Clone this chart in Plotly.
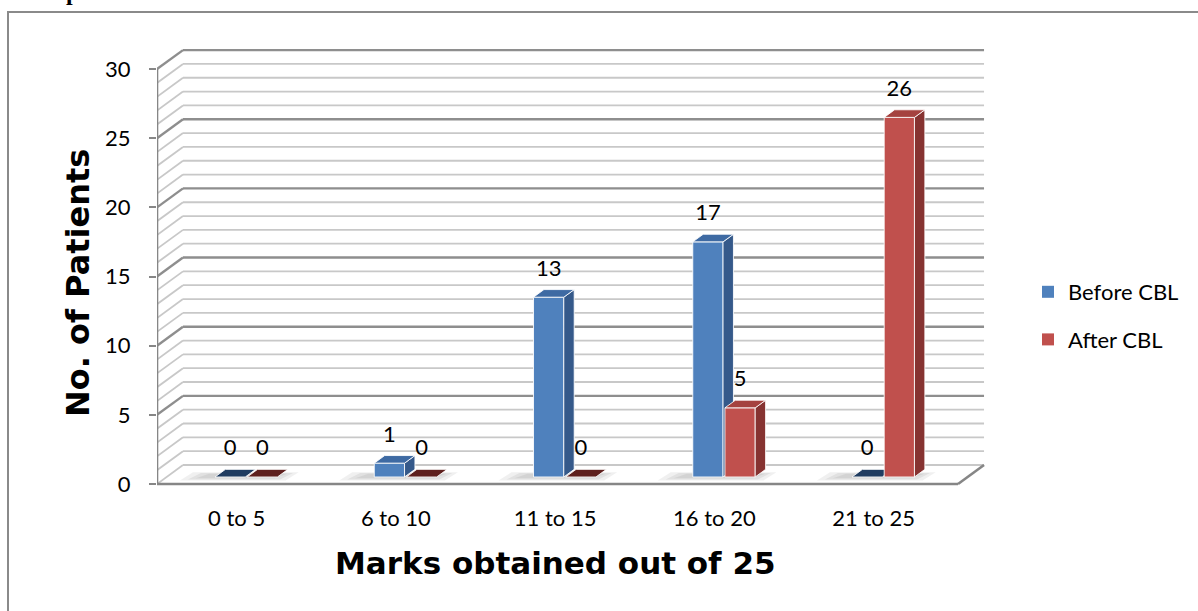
import plotly.graph_objects as go

# ---- data -------------------------------------------------------------
categories = ["0 to 5", "6 to 10", "11 to 15", "16 to 20", "21 to 25"]
before_cbl = [0, 1, 13, 17, 0]
after_cbl = [0, 0, 0, 5, 26]
series_names = ["Before CBL", "After CBL"]
y_ticks = [0, 5, 10, 15, 20, 25, 30]

x_title = "Marks obtained out of 25"
y_title = "No. of Patients"

# ---- geometry ---------------------------------------------------------
W, H = 1198, 611
ML, MR, MT, MB = 157, 208, 40, 111
PLOT_W = W - ML - MR
PLOT_H = H - MT - MB
PX_PER_CAT = 159.25
PX_PER_UNIT = 13.83

X_LEFT = -0.5                      # front-left corner of the floor
X_RIGHT = 4.53                     # front-right corner of the floor
X_RANGE = [X_LEFT, X_LEFT + PLOT_W / PX_PER_CAT]
Y_RANGE = [-16 / PX_PER_UNIT, (PLOT_H - 16) / PX_PER_UNIT]
Y_MAX = 30

# depth of the 3-D box, expressed in axis units
DX = 26 / PX_PER_CAT
DY = 19 / PX_PER_UNIT
Z_FRONT, Z_BACK = 0.37, 0.77       # bar depth inside the box
BAR_W = 0.19
HALF_GAP = 0.006

GRID_MINOR = "#c8c8c8"
GRID_MAJOR = "#8e8e8e"
AXIS_COL = "#868686"

STYLE = {
    "Before CBL": dict(front="#4F81BD", side="#35598A", top="#3E6AA3", flat="#203C60"),
    "After CBL": dict(front="#C0504D", side="#863331", top="#A5423F", flat="#5E201E"),
}

TEXT_FONT = "Lato"
TITLE_FONT = "DejaVu Sans"


def px_x(px):
    return (px - ML) / PLOT_W


def px_y(py):
    return (H - MB - py) / PLOT_H


def bar_x(i, sign):
    """Left/right x of a bar's front face before depth shift."""
    if sign < 0:
        return i - HALF_GAP - BAR_W, i - HALF_GAP
    return i + HALF_GAP, i + HALF_GAP + BAR_W


def faces(values, sign):
    fx, fy, sx, sy, tx, ty, zx, zy = [], [], [], [], [], [], [], []
    for i, v in enumerate(values):
        x0, x1 = bar_x(i, sign)
        a0, b0 = DX * Z_FRONT, DY * Z_FRONT
        a1, b1 = DX * Z_BACK, DY * Z_BACK
        top_x = [x0 + a0, x1 + a0, x1 + a1, x0 + a1, x0 + a0, None]
        top_y = [v + b0, v + b0, v + b1, v + b1, v + b0, None]
        if v == 0:
            zx += top_x
            zy += top_y
            continue
        fx += [x0 + a0, x1 + a0, x1 + a0, x0 + a0, x0 + a0, None]
        fy += [b0, b0, v + b0, v + b0, b0, None]
        sx += [x1 + a0, x1 + a1, x1 + a1, x1 + a0, x1 + a0, None]
        sy += [b0, b1, v + b1, v + b0, b0, None]
        tx += top_x
        ty += top_y
    return (fx, fy), (sx, sy), (tx, ty), (zx, zy)


fig = go.Figure()

edge = dict(color="rgba(255,255,255,0.85)", width=1)
for name, values, sign in [(series_names[0], before_cbl, -1), (series_names[1], after_cbl, 1)]:
    st = STYLE[name]
    front, side, top, flat = faces(values, sign)
    for (xs, ys), col in [(flat, st["flat"]), (front, st["front"]), (side, st["side"]), (top, st["top"])]:
        if not xs:
            continue
        fig.add_trace(go.Scatter(
            x=xs, y=ys, mode="lines", fill="toself", fillcolor=col,
            line=edge, showlegend=False, hoverinfo="skip", legendgroup=name,
        ))

# value labels above each bar
for name, values, sign in [(series_names[0], before_cbl, -1), (series_names[1], after_cbl, 1)]:
    xs, ys = [], []
    for i, v in enumerate(values):
        x0, x1 = bar_x(i, sign)
        xs.append((x0 + x1) / 2 + DX * Z_FRONT)
        ys.append(v + DY * Z_BACK + 19.5 / PX_PER_UNIT)
    fig.add_trace(go.Scatter(
        x=xs, y=ys, mode="text", text=[str(v) for v in values],
        textposition="middle center",
        textfont=dict(family=TEXT_FONT, size=22, color="#000000"),
        showlegend=False, hoverinfo="skip",
    ))

# legend entries
for name in series_names:
    fig.add_trace(go.Scatter(
        x=[None], y=[None], mode="markers", name=name, legendgroup=name,
        marker=dict(symbol="square", size=12, color=STYLE[name]["front"]),
    ))

# ---- box: walls, floor and axis line ---------------------------------
shapes = []
for v in range(0, Y_MAX + 1):
    major = v % 5 == 0 and v > 0
    line = dict(color=GRID_MAJOR if major else GRID_MINOR, width=2.4 if major else 1.8)
    shapes.append(dict(type="line", xref="x", yref="y", layer="below",
                       x0=X_LEFT + DX, y0=v + DY, x1=X_RIGHT + DX, y1=v + DY, line=line))
    shapes.append(dict(type="line", xref="x", yref="y", layer="below",
                       x0=X_LEFT, y0=v, x1=X_LEFT + DX, y1=v + DY, line=line))

# soft shadows cast on the floor around each pair of bars
for i in range(len(categories)):
    left = bar_x(i, -1)[0]
    right = bar_x(i, 1)[1]
    for k, spread in enumerate([0.16, 0.11, 0.06]):
        ya, yb = DY * (0.18 + 0.06 * k), DY * (0.62 - 0.04 * k)
        xa0, xa1 = left - spread, right + spread * 0.7
        path = (f"M{xa0},{ya} L{xa1},{ya} "
                f"L{xa1 + DX * 0.5},{yb} L{xa0 + DX * 0.5},{yb} Z")
        shapes.append(dict(type="path", xref="x", yref="y", layer="below", path=path,
                           fillcolor="rgba(0,0,0,0.06)", line=dict(width=0)))

axis_line = dict(color=AXIS_COL, width=2.6)
shapes.append(dict(type="line", xref="x", yref="y", layer="below",
                   x0=X_LEFT, y0=0, x1=X_RIGHT, y1=0, line=axis_line))
shapes.append(dict(type="line", xref="x", yref="y", layer="below",
                   x0=X_RIGHT, y0=0, x1=X_RIGHT + DX, y1=DY, line=axis_line))
shapes.append(dict(type="line", xref="x", yref="y", layer="above",
                   x0=X_LEFT, y0=0, x1=X_LEFT, y1=Y_MAX, line=axis_line))

# chart frame
shapes.append(dict(type="rect", xref="paper", yref="paper", layer="below",
                   x0=px_x(8), y0=px_y(12), x1=px_x(1210), y1=px_y(625),
                   line=dict(color="#8a8a8a", width=2), fillcolor="rgba(0,0,0,0)"))

annotations = [
    dict(text=f"<b>{x_title}</b>", xref="x", yref="paper", x=2.0, y=px_y(563),
         showarrow=False, xanchor="center", yanchor="middle",
         font=dict(family=TITLE_FONT, size=31, color="#000000")),
    dict(text=f"<b>{y_title}</b>", xref="paper", yref="paper", x=px_x(78), y=px_y(283),
         showarrow=False, xanchor="center", yanchor="middle", textangle=-90,
         font=dict(family=TITLE_FONT, size=32, color="#000000")),
    # tail of the heading printed above the chart frame
    dict(text="<b>p</b>", xref="paper", yref="paper", x=px_x(72), y=px_y(-8.4),
         showarrow=False, xanchor="center", yanchor="middle",
         font=dict(family="Liberation Serif", size=24, color="#000000")),
]

fig.update_layout(
    width=W, height=H,
    margin=dict(l=ML, r=MR, t=MT, b=MB, pad=0),
    paper_bgcolor="white", plot_bgcolor="white",
    shapes=shapes, annotations=annotations,
    showlegend=True,
    legend=dict(
        x=px_x(1028), y=px_y(316), xanchor="left", yanchor="middle",
        font=dict(family=TEXT_FONT, size=22, color="#000000"),
        traceorder="grouped", tracegroupgap=16, itemwidth=30,
        bgcolor="rgba(0,0,0,0)",
    ),
    xaxis=dict(
        range=X_RANGE, tickmode="array", tickvals=list(range(len(categories))),
        ticktext=categories, showgrid=False, zeroline=False, showline=False,
        ticks="", ticklabelstandoff=3,
        tickfont=dict(family=TEXT_FONT, size=22, color="#000000"),
        fixedrange=True,
    ),
    yaxis=dict(
        range=Y_RANGE, tickmode="array", tickvals=y_ticks,
        showgrid=False, zeroline=False, showline=False,
        ticks="outside", ticklen=7, tickwidth=2, tickcolor=AXIS_COL,
        ticklabelstandoff=14,
        tickfont=dict(family=TEXT_FONT, size=22, color="#000000"),
        fixedrange=True,
    ),
)

fig.write_html("out.html")
